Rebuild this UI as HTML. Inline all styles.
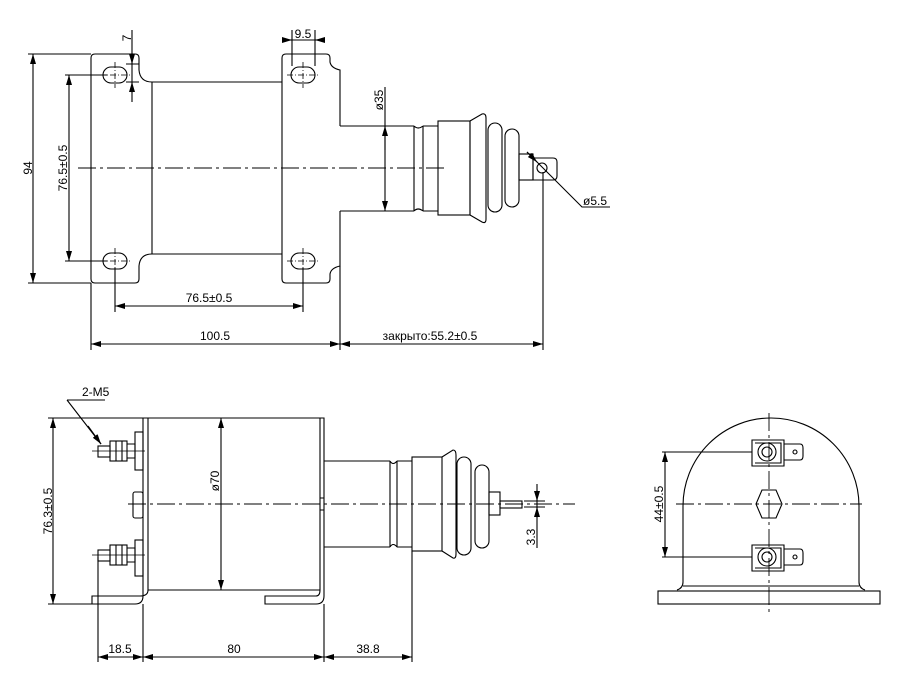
<!DOCTYPE html>
<html><head><meta charset="utf-8"><style>html,body{margin:0;padding:0;background:#fff}svg{display:block}</style></head><body>
<svg width="916" height="684" viewBox="0 0 916 684" xmlns="http://www.w3.org/2000/svg" font-family="Liberation Sans, sans-serif" font-size="12" fill="none" stroke="#000" stroke-width="1">
<defs>
<marker id="a" viewBox="0 0 10 6" refX="10" refY="3" markerWidth="10" markerHeight="6" orient="auto-start-reverse" markerUnits="userSpaceOnUse"><path d="M0,0L10,3L0,6z" fill="#000" stroke="none"/></marker>
</defs>
<g stroke-width="1.1">
<!-- TOP VIEW -->
<path d="M91,58 Q91,54 95,54 L135,54 Q139,54 139,58 L139,70 Q140,82 152,82 L282,82"/>
<path d="M91,58 L91,279 Q91,283 95,283 L135,283 Q139,283 139,279 L139,266 Q140,254 152,254 L282,254"/>
<path d="M152,82 L152,254"/>
<path d="M282,58 Q282,54 286,54 L326,54 Q330,54 330,58 L330,62 Q331,68 340,70 L340,126"/>
<path d="M282,58 L282,279 Q282,283 286,283 L326,283 Q330,283 330,279 L330,274 Q331,268 340,266 L340,211"/>
<g>
<rect x="103" y="67" width="24" height="16" rx="8"/><rect x="103" y="253" width="24" height="16" rx="8"/>
<rect x="291" y="67" width="24" height="16" rx="8"/><rect x="291" y="253" width="24" height="16" rx="8"/>
</g>
<g stroke-width="0.8" stroke-dasharray="6,2,1,2">
<path d="M99,75H131M115,62V88M99,261H131M115,248V288M287,75H319M303,62V88M287,261H319M303,248V288"/>
</g>
<path d="M78,168 H445" stroke-dasharray="18,4,3,4" stroke-width="0.9"/>
<!-- tube -->
<path d="M340,126 H414 M340,211 H414 M414,126 V211 M414,126 Q418,130 423,126 M414,211 Q418,207 423,211 M423,126 V211 M423,126 H438 M423,211 H438"/>
<rect x="438" y="121" width="32" height="94"/>
<path d="M470,121 L470,215 M470,121 L482,114 Q486,113 486,118 L486,219 Q486,224 482,222 L470,215"/>
<rect x="488" y="123" width="14" height="89" rx="7"/>
<rect x="505" y="129" width="14" height="78" rx="7"/>
<rect x="519" y="154" width="14" height="26"/>
<path d="M533,158 H553 Q557,158 557,162 L557,176 Q557,180 553,180 H533 Z"/>
<circle cx="542" cy="168" r="5"/>
<!-- dims top -->
<path d="M91,54 H28 M91,283 H28"/>
<path d="M33,54 V283" marker-start="url(#a)" marker-end="url(#a)"/>
<path d="M65,75 H107 M65,261 H107"/>
<path d="M69,75 V261" marker-start="url(#a)" marker-end="url(#a)"/>
<path d="M115,268 V312 M303,268 V312"/>
<path d="M115,306 H303" marker-start="url(#a)" marker-end="url(#a)"/>
<path d="M91,283 V350 M340,266 V350 M543,172 V350"/>
<path d="M91,344 H340" marker-start="url(#a)" marker-end="url(#a)"/>
<path d="M340,344 H543" marker-start="url(#a)" marker-end="url(#a)"/>
<path d="M132,30 V102 M126,64 H139 M126,82 H139"/>
<path d="M132,53 V64" marker-end="url(#a)"/><path d="M132,93 V82" marker-end="url(#a)"/>
<path d="M292,30 V66 M315,30 V66"/>
<path d="M284,40 H292" marker-end="url(#a)"/><path d="M323,40 H315" marker-end="url(#a)"/>
<path d="M292,40 H315"/>
<path d="M385,87 V211" marker-end="url(#a)"/><path d="M385,150 V126" marker-end="url(#a)"/>
<path d="M527,152 L582,207 H610"/>
<path d="M527,152 L537,162" marker-end="url(#a)"/>
<!-- SIDE VIEW -->
<path d="M143,418 H148 V590 H320 V418 H324 V596 Q324,604 316,604 H265 V596 H316 Q320,596 320,590"/>
<path d="M148,418 H320 M143,418 V596 Q143,604 135,604 H92 V596 H140 Q148,596 148,590"/>
<path d="M320,498 H324 M320,510 H324"/>
<rect x="135" y="432" width="8" height="38"/><rect x="135" y="540" width="8" height="36"/>
<rect x="133" y="492" width="10" height="26" rx="2"/>
<rect x="98" y="446" width="12" height="11"/><rect x="110" y="441" width="17" height="20"/><path d="M116,441 V461 M122,441 V461 M127,444 H135 V458 H127"/>
<rect x="98" y="550" width="12" height="11"/><rect x="110" y="545" width="17" height="20"/><path d="M116,545 V565 M122,545 V565 M127,548 H135 V562 H127"/>
<path d="M92,451 H145 M92,555 H145" stroke-width="0.8"/>
<path d="M128,504 H575" stroke-dasharray="18,4,3,4" stroke-width="0.9"/>
<path d="M324,461 H390 M324,547 H390 M390,461 Q393,466 397,461 M390,547 Q393,542 397,547 M390,461 V547 M397,461 V547 M397,461 H412 M397,547 H412"/>
<rect x="412" y="457" width="30" height="94"/>
<path d="M442,457 L453,450 Q456,450 456,455 L456,554 Q456,559 453,558 L442,551"/>
<rect x="457" y="457" width="14" height="98" rx="7"/>
<rect x="475" y="465" width="14" height="83" rx="7"/>
<rect x="489" y="492" width="11" height="23"/>
<rect x="500" y="501" width="22" height="7"/>
<!-- side dims -->
<path d="M143,418 H48 M92,604 H48"/>
<path d="M53,418 V604" marker-start="url(#a)" marker-end="url(#a)"/>
<path d="M221,418 V590" marker-start="url(#a)" marker-end="url(#a)"/>
<path d="M67,400 H105 M67,400 L101,444" /><path d="M88,426 L101,444" marker-end="url(#a)"/>
<path d="M98,557 V662 M143,604 V662 M324,604 V662 M412,551 V662"/>
<path d="M98,657 H143" marker-start="url(#a)" marker-end="url(#a)"/>
<path d="M143,657 H324" marker-start="url(#a)" marker-end="url(#a)"/>
<path d="M324,657 H412" marker-start="url(#a)" marker-end="url(#a)"/>
<path d="M524,501 H545 M524,507 H545 M537,484 V548"/>
<path d="M537,490 V501" marker-end="url(#a)"/><path d="M537,518 V507" marker-end="url(#a)"/>
<!-- END VIEW -->
<path d="M683,582 V506 A88,88 0 0 1 859,506 V582 Q859,588 865,590 M683,582 Q683,588 677,590"/>
<path d="M683,586 H859"/>
<rect x="658" y="591" width="222" height="13"/>
<path d="M769,413 V615 M676,504 H862" stroke-dasharray="18,4,3,4" stroke-width="0.9"/>
<path d="M752,440 H784 V466 H752 Z M755,443 H781 V463 H755"/>
<path d="M784,444 H800 Q803,444 803,448 V456 Q803,460 800,460 H784"/>
<circle cx="767" cy="452" r="9"/><circle cx="767" cy="452" r="5"/><circle cx="795" cy="452" r="2"/>
<path d="M752,545 H784 V571 H752 Z M755,548 H781 V568 H755"/>
<path d="M784,549 H800 Q803,549 803,553 V561 Q803,565 800,565 H784"/>
<circle cx="767" cy="557" r="9"/><circle cx="767" cy="557" r="5"/><circle cx="795" cy="557" r="2"/>
<path d="M762,490 H776 L782,504 L776,518 H762 L756,504 Z"/>
<path d="M662,452 H752 M662,557 H752"/>
<path d="M665,452 V557" marker-start="url(#a)" marker-end="url(#a)"/>
</g>
<g fill="#000" stroke="none">
<text x="209" y="302" text-anchor="middle">76.5±0.5</text>
<text x="215" y="340" text-anchor="middle">100.5</text>
<text x="430" y="340" text-anchor="middle">закрыто:55.2±0.5</text>
<text x="303" y="38" text-anchor="middle">9.5</text>
<text x="583" y="205">ø5.5</text>
<text transform="translate(32,168) rotate(-90)" text-anchor="middle">94</text>
<text transform="translate(67,168) rotate(-90)" text-anchor="middle">76.5±0.5</text>
<text transform="translate(131,38) rotate(-90)" text-anchor="middle">7</text>
<text transform="translate(383,100) rotate(-90)" text-anchor="middle">ø35</text>
<text x="82" y="396">2-M5</text>
<text transform="translate(52,511) rotate(-90)" text-anchor="middle">76.3±0.5</text>
<text transform="translate(219,481) rotate(-90)" text-anchor="middle">ø70</text>
<text x="120" y="653" text-anchor="middle">18.5</text>
<text x="234" y="653" text-anchor="middle">80</text>
<text x="368" y="653" text-anchor="middle">38.8</text>
<text transform="translate(535,537) rotate(-90)" text-anchor="middle">3.3</text>
<text transform="translate(663,504) rotate(-90)" text-anchor="middle">44±0.5</text>
</g>
</svg>
</body></html>
